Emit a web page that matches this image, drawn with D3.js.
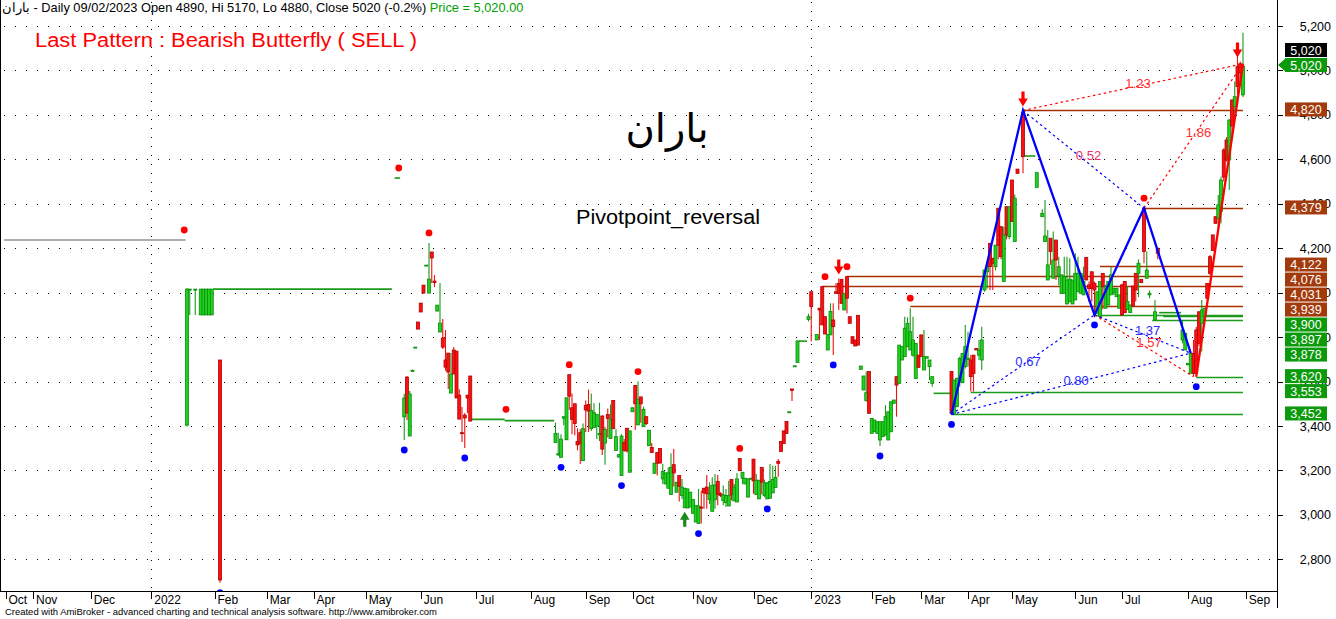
<!DOCTYPE html>
<html><head><meta charset="utf-8">
<script src="https://cdn.jsdelivr.net/npm/d3@7"></script>
<style>
html,body{margin:0;padding:0;background:#fff;}
svg{display:block;font-family:"Liberation Sans",Arial,sans-serif;}
</style></head><body>
<svg id="chart" width="1336" height="619"></svg>
<script>
// ---------------- DATA ----------------
const symbolName = "باران";
const headerText = symbolName + " - Daily 09/02/2023 Open 4890, Hi 5170, Lo 4880, Close 5020 (-0.2%) ";
const headerPrice = "Price = 5,020.00";
const patternTitle = "Last Pattern : Bearish Butterfly ( SELL )";
const systemName = "Pivotpoint_reversal";
const footerText = "Created with AmiBroker - advanced charting and technical analysis software. http://www.amibroker.com";

const priceTicks = [2800, 3000, 3200, 3400, 3600, 3800, 4000, 4200, 4400, 4600, 4800, 5000, 5200];
// [bar index, label]
const monthTicks = [[2,"Oct"],[12,"Nov"],[33,"Dec"],[55,"2022"],[78,"Feb"],[97,"Mar"],[114,"Apr"],[133,"May"],[153,"Jun"],[173,"Jul"],[193,"Aug"],[213,"Sep"],[230,"Oct"],[252,"Nov"],[274,"Dec"],[295,"2023"],[317,"Feb"],[335,"Mar"],[352,"Apr"],[368,"May"],[391,"Jun"],[408,"Jul"],[432,"Aug"],[453,"Sep"]];

// candles: [bar, open, high, low, close]
const candles = [
[68,3404,4020,3398,4016],[69,4012,4016,3900,4016],[71,4012,4016,3900,4016],
[73,3900,4016,3900,4016],[74,3900,4016,3900,4016],[75,3900,4016,3900,4016],[76,3900,4016,3900,4016],[77,3900,4016,3900,4016],
[80,3697,3697,2695,2707],
[147,3441,3545,3337,3526],[148,3620,3625,3427,3458],[149,3355,3557,3355,3544],[150,3646,3655,3645,3650],[151,3753,3755,3752,3755],
[152,3868,3868,3836,3836],[153,3953,3953,3913,3913],[154,4034,4034,3998,3998],[155,4122,4124,4122,4124],[156,3998,4224,3998,4061],
[157,4183,4183,4043,4156],[158,4052,4079,4025,4045],[159,3917,3944,3917,3944],[160,3823,4043,3823,3863],[161,3796,3881,3746,3755],
[162,3697,3832,3649,3665],[163,3728,3728,3566,3643],[164,3548,3728,3548,3634],[165,3742,3755,3634,3634],[166,3737,3737,3526,3526],
[167,3539,3565,3431,3431],[168,3370,3485,3328,3366],[169,3449,3458,3301,3436],[170,3539,3539,3458,3526],[171,3625,3625,3422,3422],
[202,3326,3415,3326,3367],[203,3270,3370,3266,3275],[204,3259,3363,3259,3341],[205,3435,3442,3403,3442],[206,3338,3527,3338,3527],
[207,3631,3631,3472,3534],[208,3482,3546,3363,3430],[209,3500,3500,3358,3411],[210,3330,3390,3291,3315],[211,3370,3385,3229,3321],
[212,3244,3411,3244,3388],[213,3493,3515,3373,3472],[214,3497,3564,3373,3467],[215,3388,3546,3378,3470],[216,3393,3502,3393,3460],
[217,3400,3452,3341,3452],[218,3360,3505,3332,3366],[219,3445,3448,3269,3296],[220,3323,3397,3226,3385],[221,3452,3479,3348,3434],
[222,3344,3497,3344,3430],[223,3515,3515,3388,3388],[224,3290,3385,3290,3352],[225,3260,3271,3260,3271],[226,3177,3363,3177,3355],
[227,3326,3341,3284,3291],[228,3390,3390,3281,3288],[229,3192,3378,3192,3378],[230,3464,3482,3464,3482],[231,3582,3582,3382,3500],
[232,3405,3600,3405,3519],[233,3531,3531,3415,3500],[234,3397,3487,3397,3475],[235,3442,3442,3405,3411],[236,3311,3381,3311,3381],
[237,3303,3323,3278,3281],[238,3187,3233,3187,3233],[239,3281,3281,3177,3233],[240,3299,3299,3233,3233],[241,3162,3230,3139,3195],
[242,3139,3189,3139,3189],[243,3120,3214,3120,3189],[244,3092,3277,3092,3214],[245,3226,3296,3128,3189],[246,3102,3147,3102,3147],
[247,3177,3177,3060,3129],[248,3087,3162,3072,3125],[249,3032,3120,3032,3120],[250,3031,3117,3031,3117],[251,3035,3102,3035,3102],
[252,3007,3069,3007,3069],[253,2968,3043,2968,3043],[254,2961,3117,2961,3040],[255,3035,3110,2961,3031],[256,3120,3120,3028,3099],
[257,3125,3180,3028,3095],[258,3069,3147,3049,3095],[259,3016,3169,3016,3132],[260,3068,3184,3028,3135],[261,3151,3180,3043,3092],
[262,3095,3102,3080,3087],[263,3065,3132,3043,3090],[264,3055,3117,3035,3087],[265,3040,3154,3040,3087],[266,3159,3159,3065,3090],
[267,3063,3139,3063,3125],[268,3058,3189,3058,3162],[269,3254,3254,3199,3199],[270,3165,3192,3139,3192],[271,3139,3165,3139,3165],
[272,3080,3162,3080,3162],[273,3162,3165,3162,3165],[274,3251,3251,3095,3153],[275,3092,3184,3092,3156],[276,3072,3156,3072,3156],
[277,3214,3214,3092,3147],[278,3087,3159,3080,3144],[279,3072,3147,3072,3144],[280,3075,3229,3075,3150],[281,3099,3221,3099,3159],
[282,3123,3221,3123,3169],[283,3241,3251,3172,3232],[284,3330,3330,3285,3285],[285,3378,3378,3321,3321],[286,3420,3420,3366,3366],
[287,3464,3464,3464,3464],[288,3567,3567,3512,3560],[289,3671,3671,3671,3671],[290,3686,3783,3686,3783],
[294,3880,3905,3870,3892],[295,4004,4004,3780,3937],[297,3787,3812,3787,3812],[298,3930,3930,3787,3922],[299,4027,4027,3855,3855],
[300,3892,3892,3814,3814],[301,3742,3812,3742,3812],[302,3810,3952,3810,3915],[303,3877,3952,3720,3847],[304,4004,4042,3997,3997],
[305,4042,4064,3922,3997],[306,4060,4060,3952,3952],[307,3922,3997,3922,3997],[308,4072,4072,3907,3975],[309,3892,3892,3862,3862],
[310,3802,3802,3772,3772],[311,3787,3787,3760,3760],[312,3898,3898,3764,3764],[313,3655,3670,3655,3670],[314,3562,3625,3562,3625],
[315,3514,3645,3510,3550],[316,3645,3645,3457,3457],[317,3367,3434,3367,3434],[318,3375,3427,3375,3427],[319,3367,3419,3367,3419],
[320,3337,3419,3310,3419],[321,3352,3419,3352,3419],[322,3359,3494,3359,3442],[323,3337,3464,3337,3464],[324,3374,3509,3374,3509],
[325,3502,3517,3502,3517],[326,3622,3622,3442,3584],[327,3592,3764,3592,3764],[328,3697,3757,3697,3757],[329,3712,3892,3712,3840],
[330,3757,3889,3757,3862],[331,3742,3930,3742,3824],[332,3719,3892,3712,3787],[333,3614,3772,3614,3772],[334,3719,3719,3664,3664],
[335,3810,3810,3712,3712],[336,3652,3832,3652,3712],[337,3705,3712,3705,3712],[338,3667,3697,3607,3697],[339,3592,3622,3577,3622],
[346,3645,3645,3452,3457],[347,3457,3607,3457,3607],[348,3487,3615,3487,3615],[349,3600,3712,3577,3704],[350,3595,3727,3595,3727],
[351,3667,3854,3659,3757],[352,3700,3824,3667,3705],[353,3697,3719,3555,3622],[354,3719,3719,3555,3637],[355,3749,3749,3742,3742],
[356,3719,3787,3697,3742],[357,3697,3847,3652,3787],[358,4012,4102,4004,4102],
[359,4094,4132,4019,4117],[360,4222,4222,4012,4117],[361,4155,4155,4012,4132],[362,4117,4214,4100,4214],[363,4380,4380,4150,4214],
[364,4297,4297,4150,4162],[365,4050,4297,4050,4260],[366,4387,4387,4240,4260],[367,4252,4387,4240,4387],[368,4507,4507,4320,4320],
[369,4230,4442,4230,4425],[370,4556,4556,4537,4537],[372,4810,4820,4537,4612],
[377,4474,4540,4474,4540],[379,4342,4375,4342,4357],[380,4230,4417,4230,4255],[381,4057,4282,4057,4125],[382,4245,4245,4125,4185],
[383,4065,4275,4065,4147],[384,4237,4237,4057,4147],[385,4075,4162,4035,4117],[386,3997,4080,3997,4080],[387,3997,4162,3997,4072],
[388,3949,4162,3949,4057],[389,3959,4155,3959,4061],[390,3949,4057,3949,4057],[391,3967,4177,3967,4087],[392,4004,4162,4004,4087],
[393,3997,4087,3997,4087],[394,3990,4117,3990,4050],[395,4159,4159,4057,4057],[396,4035,4050,3959,4019],[397,4094,4094,3959,4019],
[398,4042,4050,3900,4012],[399,3907,4004,3907,4004],[400,3892,4050,3892,4050],[401,4087,4087,3925,4027],[402,3930,4035,3930,4027],
[403,3945,4050,3945,4050],[404,3990,4117,3990,4080],[405,4000,4020,3990,4020],[406,3982,4020,3982,4020],[407,3930,3990,3930,3990],
[408,4035,4040,3895,3900],[409,4050,4050,3910,3910],[410,3925,4030,3925,3960],[411,3910,3945,3910,3945],[412,4030,4030,3940,3940],
[413,4087,4087,3960,4012],[414,4087,4150,3980,4132],[415,4060,4060,4045,4045],[416,4380,4380,4132,4185],[417,4065,4185,4065,4102],
[418,3990,4010,3975,3997],[420,3877,3967,3877,3914],[421,4200,4200,4150,4177],
[430,3787,3877,3772,3832],[431,3742,3817,3742,3817],[432,3675,3682,3675,3682],[433,3637,3727,3637,3727],[434,3727,3787,3622,3637],
[435,3832,3847,3622,3637],[436,3914,3914,3760,3772],[437,3862,3967,3735,3922],[438,3892,3930,3892,3930],[439,4042,4042,3975,3975],
[440,4162,4170,4080,4087],[441,4260,4260,4190,4190],[442,4342,4342,4312,4312],[443,4335,4440,4275,4395],[444,4365,4522,4312,4507],
[445,4642,4650,4500,4520],[446,4687,4700,4590,4597],[447,4597,4780,4462,4777],[448,4867,4870,4687,4750],[449,4837,4950,4790,4882],
[450,5017,5069,4844,4927],[451,5030,5040,4960,4990],[452,4890,5170,4880,5020]
];

// price unchanged over several bars (halted): [first bar, last bar, price]
const preListingLine = [2, 67, 4237];
const haltLines = [[78,142,4016],[144,145,4516],[172,183,3430],[184,201,3424],[291,293,3782],[340,345,3547],[373,376,4615],[422,429,3910]];

// pivots: [bar, price]
const pivotHighs = [[67,4237],[145,4516],[156,4224],[184,3430],[207,3631],[232,3600],[269,3254],[300,4027],[308,4072],[331,3930],[416,4380]];
const pivotLows = [[80,2695],[147,3337],[169,3301],[204,3259],[226,3177],[254,2961],[279,3072],[303,3720],[320,3310],[346,3452],[398,3900],[435,3622]];
const sellArrows = [[305,4064],[372,4820],[450,5040]];
const buyArrows = [[249,3032]];

// harmonic pattern
const patternXABCD = [[346,3452],[372,4820],[398,3900],[416,4380],[433,3728]];
const patternLastLeg = [[435,3622],[452,5030]];
// [bar1, price1, bar2, price2, ratio, group]
const ratioLines = [
  [346,3452,398,3900,"0.67","blue"],
  [346,3452,433,3728,"0.80","blue"],
  [398,3900,433,3728,"1.37","blue"],
  [372,4820,416,4380,"0.52","mixed"],
  [398,3900,434,3622,"1.57","red"],
  [372,4820,452,5030,"1.23","red"],
  [416,4380,452,5030,"1.86","red"]
];
// support / resistance levels: [start bar, price]
const resistanceLevels = [[372,4820],[416,4379],[400,4122],[308,4076],[299,4031],[331,3939]];
const supportLevels = [[398,3900],[423,3897],[419,3878],[435,3620],[353,3553],[346,3452]];
const lastBar = 452;
const lastPrice = 5020;

// ---------------- DRAW ----------------
const W = 1336, H = 619, plotR = 1277, plotB = 591;
const x = d3.scaleLinear().domain([0, 464]).range([0, 1276]);
const y = d3.scaleLinear().domain([2657.5, 5317]).range([plotB, 0]);
const fmt = d3.format(",");

const GREEN_FILL = "#1fd21f", GREEN_DARK = "#0a8a0a", GREEN_WICK = "#179a17";
const RED_FILL = "#ff1010", RED_DARK = "#b00000", RED_WICK = "#f01010";
const LEVEL_BROWN = "#a83000", LEVEL_GREEN = "#1c9a1c";
const BOX_BROWN = "#a33a0c", BOX_GREEN = "#0b9a0b";

const svg = d3.select("#chart");
svg.append("rect").attr("width", W).attr("height", H).attr("fill", "#fff");
svg.append("defs").append("clipPath").attr("id", "plot")
  .append("rect").attr("x", 0).attr("y", 0).attr("width", plotR).attr("height", plotB);

const grid = svg.append("g");
grid.selectAll("line.h").data(priceTicks).join("line")
  .attr("x1", 4).attr("x2", plotR)
  .attr("y1", d => Math.round(y(d)) + 0.5).attr("y2", d => Math.round(y(d)) + 0.5)
  .attr("stroke", "#000").attr("stroke-width", 1).attr("stroke-dasharray", "1,10");
grid.selectAll("line.v").data(monthTicks.filter(d => /^\d{4}$/.test(d[1]))).join("line")
  .attr("x1", d => Math.round(x(d[0])) + 0.5).attr("x2", d => Math.round(x(d[0])) + 0.5)
  .attr("y1", 2).attr("y2", plotB)
  .attr("stroke", "#000").attr("stroke-width", 1).attr("stroke-dasharray", "1,8");

const g = svg.append("g").attr("clip-path", "url(#plot)");

// pre-listing and halted bars
g.append("line")
  .attr("x1", x(preListingLine[0] - 0.5)).attr("x2", x(preListingLine[1] + 0.5))
  .attr("y1", y(preListingLine[2])).attr("y2", y(preListingLine[2]))
  .attr("stroke", "#5a5a5a").attr("stroke-width", 1.2);
g.selectAll("line.halt").data(haltLines).join("line")
  .attr("x1", d => x(d[0] - 0.5)).attr("x2", d => x(d[1] + 0.5))
  .attr("y1", d => y(d[2])).attr("y2", d => y(d[2]))
  .attr("stroke", LEVEL_GREEN).attr("stroke-width", 1.6);

// levels
const levelG = g.append("g");
levelG.selectAll("line.res").data(resistanceLevels).join("line")
  .attr("x1", d => x(d[0])).attr("x2", x(lastBar))
  .attr("y1", d => Math.round(y(d[1])) + 0.5).attr("y2", d => Math.round(y(d[1])) + 0.5)
  .attr("stroke", LEVEL_BROWN).attr("stroke-width", 1.3);
levelG.selectAll("line.sup").data(supportLevels).join("line")
  .attr("x1", d => x(d[0])).attr("x2", x(lastBar))
  .attr("y1", d => Math.round(y(d[1])) + 0.5).attr("y2", d => Math.round(y(d[1])) + 0.5)
  .attr("stroke", LEVEL_GREEN).attr("stroke-width", 1.3);

// candles
const cg = g.append("g");
const up = d => d[4] >= d[1];
cg.selectAll("line.wick").data(candles).join("line")
  .attr("x1", d => x(d[0])).attr("x2", d => x(d[0]))
  .attr("y1", d => y(d[2])).attr("y2", d => y(d[3]))
  .attr("stroke", d => up(d) ? GREEN_WICK : RED_WICK).attr("stroke-width", 1.1);
cg.selectAll("rect.body").data(candles).join("rect")
  .attr("x", d => x(d[0]) - 1.5).attr("width", 3)
  .attr("y", d => y(Math.max(d[1], d[4])))
  .attr("height", d => Math.max(1, Math.abs(y(d[1]) - y(d[4]))))
  .attr("fill", d => up(d) ? GREEN_FILL : RED_FILL)
  .attr("stroke", d => up(d) ? GREEN_DARK : RED_DARK).attr("stroke-width", 0.8);

// ratio dotted lines
const ratioColor = { blue: "#0000ff", red: "#ff0000", mixed: "#0000ff" };
const ratioText = { blue: "#2a2aff", red: "#ff3030", mixed: "#e8306a" };
g.selectAll("line.ratio").data(ratioLines).join("line")
  .attr("x1", d => x(d[0])).attr("y1", d => y(d[1]))
  .attr("x2", d => x(d[2])).attr("y2", d => y(d[3]))
  .attr("stroke", d => ratioColor[d[5]]).attr("stroke-width", 1.2)
  .attr("stroke-dasharray", "2.5,3");

// pattern lines
const line = d3.line().x(d => x(d[0])).y(d => y(d[1]));
g.append("path").datum(patternXABCD).attr("d", line)
  .attr("fill", "none").attr("stroke", "#0000ff").attr("stroke-width", 2.3);
g.append("path").datum(patternLastLeg).attr("d", line)
  .attr("fill", "none").attr("stroke", "#ff0000").attr("stroke-width", 2.3);

g.selectAll("text.ratio").data(ratioLines).join("text")
  .attr("x", d => (x(d[0]) + x(d[2])) / 2 + 5)
  .attr("y", d => (y(d[1]) + y(d[3])) / 2 + 1)
  .attr("text-anchor", "middle").attr("font-size", 13)
  .attr("fill", d => ratioText[d[5]]).text(d => d[4]);

// pivot markers
g.selectAll("circle.ph").data(pivotHighs).join("circle")
  .attr("cx", d => x(d[0])).attr("cy", d => y(d[1]) - 10).attr("r", 3.4).attr("fill", "#ff0000");
g.selectAll("circle.pl").data(pivotLows).join("circle")
  .attr("cx", d => x(d[0])).attr("cy", d => y(d[1]) + 10).attr("r", 3.4).attr("fill", "#0000ff");
const sellPath = (tx, ty) => `M${tx - 1.6},${ty - 15}h3.2v7h3.2l-4.8,8l-4.8,-8h3.2z`;
const buyPath = (tx, ty) => `M${tx - 1.6},${ty + 15}h3.2v-7h3.2l-4.8,-8l-4.8,8h3.2z`;
g.selectAll("path.sell").data(sellArrows).join("path")
  .attr("d", d => sellPath(x(d[0]), y(d[1]) - 4)).attr("fill", "#ff0000");
g.selectAll("path.buy").data(buyArrows).join("path")
  .attr("d", d => buyPath(x(d[0]), y(d[1]) + 4)).attr("fill", "#1a8a1a");

// frame
svg.append("line").attr("x1", 0.5).attr("x2", 0.5).attr("y1", 0).attr("y2", plotB).attr("stroke", "#000");
svg.append("line").attr("x1", 0).attr("x2", plotR + 1).attr("y1", plotB + 0.5).attr("y2", plotB + 0.5).attr("stroke", "#000");
svg.append("line").attr("x1", plotR + 0.5).attr("x2", plotR + 0.5).attr("y1", 0).attr("y2", 608).attr("stroke", "#000");

// x axis labels
const xa = svg.append("g");
xa.selectAll("line").data(monthTicks).join("line")
  .attr("x1", d => Math.round(x(d[0])) + 0.5).attr("x2", d => Math.round(x(d[0])) + 0.5)
  .attr("y1", plotB).attr("y2", plotB + 8).attr("stroke", "#000");
xa.selectAll("text").data(monthTicks).join("text")
  .attr("x", d => x(d[0]) + 3).attr("y", 604).attr("font-size", 12).attr("fill", "#000")
  .text(d => d[1]);

// y axis
const ya = svg.append("g");
ya.selectAll("line").data(priceTicks).join("line")
  .attr("x1", plotR).attr("x2", plotR + 6)
  .attr("y1", d => Math.round(y(d)) + 0.5).attr("y2", d => Math.round(y(d)) + 0.5).attr("stroke", "#000");
ya.selectAll("text").data(priceTicks).join("text")
  .attr("x", 1331).attr("y", d => y(d) + 4.5).attr("text-anchor", "end")
  .attr("font-size", 12.5).attr("fill", "#000").text(d => fmt(d));

// level value boxes (stacked)
const boxes = [{ p: lastPrice, c: BOX_GREEN, arrow: true }]
  .concat(resistanceLevels.map(d => ({ p: d[1], c: BOX_BROWN })))
  .concat(supportLevels.map(d => ({ p: d[1], c: BOX_GREEN })))
  .sort((a, b) => b.p - a.p);
let prev = -Infinity;
boxes.forEach(b => { b.yy = Math.max(y(b.p) - 1, prev + 15); prev = b.yy; });
boxes.push({ p: lastPrice, c: "#000", yy: boxes[0].yy - 15 });
const bg = svg.append("g");
bg.selectAll("rect").data(boxes).join("rect")
  .attr("x", 1285).attr("width", 42).attr("y", d => d.yy - 7).attr("height", 14).attr("fill", d => d.c);
bg.selectAll("path").data(boxes.filter(d => d.arrow)).join("path")
  .attr("d", d => `M1278,${d.yy}L1286,${d.yy - 7}L1286,${d.yy + 7}Z`).attr("fill", d => d.c);
bg.selectAll("text").data(boxes).join("text")
  .attr("x", 1306).attr("y", d => d.yy + 4.5).attr("text-anchor", "middle")
  .attr("font-size", 12.5).attr("fill", "#fff").text(d => fmt(d.p));

// texts
const ht = svg.append("text").attr("x", 2).attr("y", 12).attr("font-size", 12.8).attr("fill", "#000");
ht.append("tspan").text(headerText);
ht.append("tspan").attr("fill", "#00a000").text(headerPrice);
svg.append("text").attr("x", 35).attr("y", 47).attr("font-size", 20).attr("fill", "#ff0000")
  .attr("textLength", 382).attr("lengthAdjust", "spacingAndGlyphs").text(patternTitle);
svg.append("text").attr("x", 667).attr("y", 142).attr("text-anchor", "middle")
  .attr("font-family", "DejaVu Sans, Noto Sans, sans-serif").attr("font-size", 40).attr("fill", "#000")
  .text(symbolName);
svg.append("text").attr("x", 576).attr("y", 224).attr("font-size", 20).attr("fill", "#000")
  .attr("textLength", 184).attr("lengthAdjust", "spacingAndGlyphs").text(systemName);
svg.append("text").attr("x", 5).attr("y", 615).attr("font-size", 9).attr("fill", "#000")
  .attr("textLength", 432).attr("lengthAdjust", "spacingAndGlyphs").text(footerText);
</script></body></html>
